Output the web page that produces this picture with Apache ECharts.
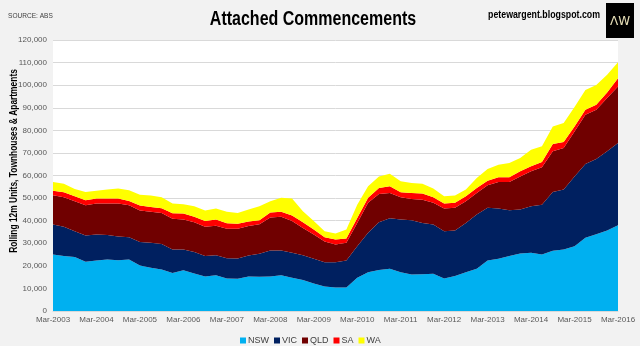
<!DOCTYPE html>
<html>
<head>
<meta charset="utf-8">
<script src="https://cdn.jsdelivr.net/npm/echarts@6/dist/echarts.min.js"></script>
<style>
html,body{margin:0;padding:0;background:#f2f2f2;}
#c{width:640px;height:346px;}
</style>
</head>
<body>
<div id="c"></div>
<script>
var years = [2003,2004,2005,2006,2007,2008,2009,2010,2011,2012,2013,2014,2015,2016];
var quarters = ['Mar','Jun','Sep','Dec'];
var categories = [];
years.forEach(function(y){ quarters.forEach(function(q){ if (y < 2016 || q === 'Mar') categories.push(q + '-' + y); }); });

var seriesNames = ['NSW','VIC','QLD','SA','WA'];
var nsw = [25000,24300,23900,21800,22400,22800,22500,22800,20200,19100,18400,16800,18000,16600,15300,15800,14400,14300,15300,15200,15300,15800,14700,13700,12200,10800,10400,10400,14700,17200,18100,18700,17200,16200,16300,16500,14400,15500,17200,18700,22400,23100,24300,25500,25800,25000,26700,27200,28700,32400,34000,35600,38000];
var vic = [13300,13000,11400,11600,11500,10800,10500,9900,10300,11100,11300,10400,9200,9500,9000,8900,9000,9000,9300,10100,11500,11000,11100,11000,10900,10800,11200,12000,14000,17400,21200,22400,23300,24000,22700,21800,20900,20100,21800,24000,23300,22300,20300,19400,20600,22100,26000,26600,30900,32700,33300,35100,36400];
var qld = [13000,13100,13300,13400,13700,14000,14600,14100,14000,13800,13700,13700,13300,13200,13000,13100,13000,13100,13000,13100,14600,14900,14000,12100,10800,9200,7900,7800,10300,13300,12500,11200,9900,9400,10300,9600,10100,10100,9600,9600,10000,11700,12500,14700,15500,16500,18000,18400,19900,21800,21800,23600,25000];
var sa = [2000,2200,2200,2200,2200,2200,2200,1900,2200,2100,2100,2400,2700,2400,2500,2700,2500,2200,2000,1800,2200,2300,2500,2500,2200,1900,2200,1900,2200,2200,2700,2900,2200,2700,2700,2500,2200,2200,2200,2200,2000,2100,2100,2300,2200,2400,3200,2600,2200,2200,2200,2500,3700];
var wa = [3800,3800,3200,3700,3500,4000,4400,4800,4800,5000,4900,4300,4100,4700,4700,4900,5000,4800,5300,6200,5000,6100,7500,4900,3700,2600,2600,4000,5900,5100,5100,5600,4800,4400,4300,3800,3200,3200,3000,4400,5200,5600,6300,5800,7300,6900,7800,8400,8600,8800,8800,7800,7100];
var seriesData = [nsw, vic, qld, sa, wa];
var colors = ['#00b0f0','#002060','#700000','#ff0000','#ffff00'];

var FONT = '"Liberation Sans",Arial,sans-serif';

var chart = echarts.init(document.getElementById('c'), null, {renderer:'canvas'});
chart.setOption({
  backgroundColor: '#f2f2f2',
  animation: false,
  graphic: [
    {type:'text', x: 313, y: 19, scaleX: 0.8, style:{text:'Attached Commencements', font:'bold 20px ' + FONT, fill:'#000', align:'center', verticalAlign:'middle'}},
    {type:'text', x: 8, y: 16, scaleX: 0.82, style:{text:'SOURCE: ABS', font:'8px ' + FONT, fill:'#404040', align:'left', verticalAlign:'middle'}},
    {type:'text', x: 600, y: 15, scaleX: 0.8, style:{text:'petewargent.blogspot.com', font:'bold 11px ' + FONT, fill:'#000', align:'right', verticalAlign:'middle'}},
    {type:'rect', x: 606, y: 3, shape:{width: 28, height: 35}, style:{fill:'#000'}},
    {type:'text', x: 620, y: 22, style:{text:'ΛW', font:'12px "DejaVu Sans",sans-serif', fill:'#e8e0b8', align:'center', verticalAlign:'middle'}},
    {type:'text', x: 14, y: 161, rotation: Math.PI/2, scaleX: 0.8, style:{text:'Rolling 12m Units, Townhouses & Apartments', font:'bold 10.5px ' + FONT, fill:'#000', align:'center', verticalAlign:'middle'}}
  ],
  legend: {
    data: seriesNames,
    left: 240, top: 336, padding: 0,
    itemWidth: 6, itemHeight: 6, itemGap: 5, icon: 'rect',
    textStyle: {fontFamily: FONT, fontSize: 9, color: '#404040', padding:[0,0,0,-3]}
  },
  grid: {left: 53, right: 22, top: 40, bottom: 35, show: true, backgroundColor: '#ffffff', borderWidth: 0},
  xAxis: {
    type: 'category', data: categories, boundaryGap: false,
    axisLine: {show: true, lineStyle: {color: '#d9d9d9'}},
    axisTick: {show: false},
    axisLabel: {interval: 3, fontFamily: FONT, fontSize: 8, color: '#595959', margin: 5},
    splitLine: {show: false}
  },
  yAxis: {
    type: 'value', min: 0, max: 120000, interval: 10000,
    axisLine: {show: false}, axisTick: {show: false},
    axisLabel: {fontFamily: FONT, fontSize: 8, color: '#595959', margin: 6,
      formatter: function(v){ return v.toLocaleString('en-US'); }},
    splitLine: {lineStyle: {color: '#d9d9d9', width: 1}}
  },
  series: seriesNames.map(function(n, i){
    return {
      name: n, type: 'line', stack: 'total', data: seriesData[i],
      symbol: 'none', smooth: false,
      lineStyle: {width: 0},
      areaStyle: {color: colors[i], opacity: 1},
      itemStyle: {color: colors[i]}
    };
  })
});
</script>
</body>
</html>
